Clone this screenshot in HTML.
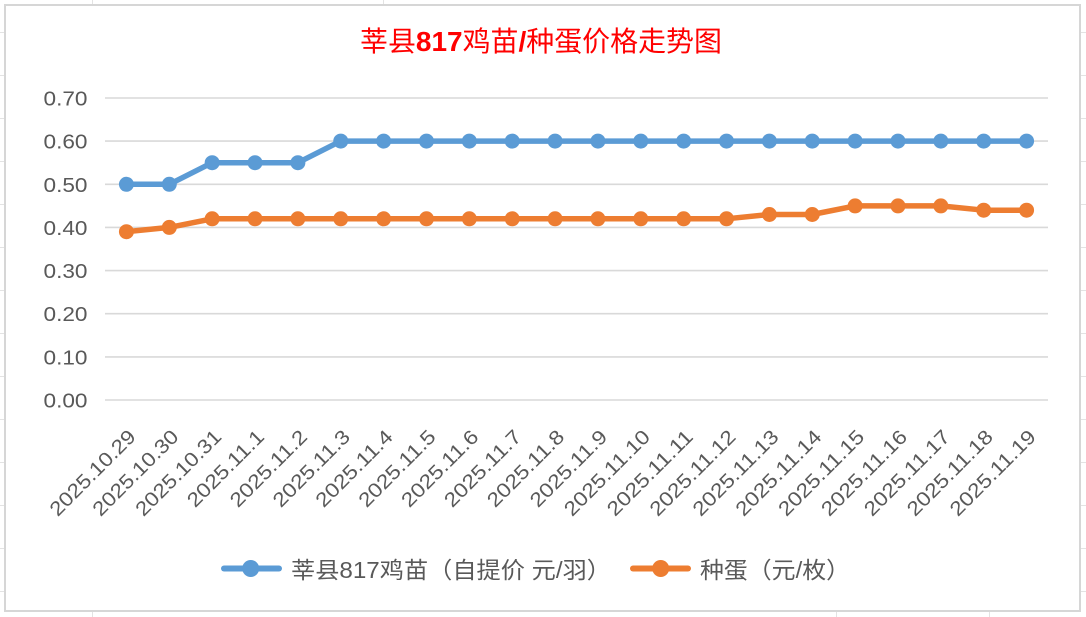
<!DOCTYPE html>
<html>
<head>
<meta charset="utf-8">
<style>
html,body{margin:0;padding:0;background:#fff;}
svg{display:block;}
text{font-family:"Liberation Sans","Noto Sans CJK SC",sans-serif;}
</style>
</head>
<body>
<svg width="1086" height="617" viewBox="0 0 1086 617" xmlns="http://www.w3.org/2000/svg">
  <rect x="0" y="0" width="1086" height="617" fill="#fff"/>
  <!-- spreadsheet gridlines outside chart -->
  <g stroke="#E3E3E3" stroke-width="1">
    <line x1="0" y1="32.5" x2="5" y2="32.5"/>
    <line x1="0" y1="75.5" x2="5" y2="75.5"/>
    <line x1="0" y1="118.5" x2="5" y2="118.5"/>
    <line x1="0" y1="161.5" x2="5" y2="161.5"/>
    <line x1="0" y1="204.5" x2="5" y2="204.5"/>
    <line x1="0" y1="247.5" x2="5" y2="247.5"/>
    <line x1="0" y1="290.5" x2="5" y2="290.5"/>
    <line x1="0" y1="333.5" x2="5" y2="333.5"/>
    <line x1="0" y1="376.5" x2="5" y2="376.5"/>
    <line x1="0" y1="419.5" x2="5" y2="419.5"/>
    <line x1="0" y1="462.5" x2="5" y2="462.5"/>
    <line x1="0" y1="505.5" x2="5" y2="505.5"/>
    <line x1="0" y1="548.5" x2="5" y2="548.5"/>
    <line x1="0" y1="591.5" x2="5" y2="591.5"/>
    <line x1="1080" y1="32.5" x2="1086" y2="32.5"/>
    <line x1="1080" y1="75.5" x2="1086" y2="75.5"/>
    <line x1="1080" y1="118.5" x2="1086" y2="118.5"/>
    <line x1="1080" y1="161.5" x2="1086" y2="161.5"/>
    <line x1="1080" y1="204.5" x2="1086" y2="204.5"/>
    <line x1="1080" y1="247.5" x2="1086" y2="247.5"/>
    <line x1="1080" y1="290.5" x2="1086" y2="290.5"/>
    <line x1="1080" y1="333.5" x2="1086" y2="333.5"/>
    <line x1="1080" y1="376.5" x2="1086" y2="376.5"/>
    <line x1="1080" y1="419.5" x2="1086" y2="419.5"/>
    <line x1="1080" y1="462.5" x2="1086" y2="462.5"/>
    <line x1="1080" y1="505.5" x2="1086" y2="505.5"/>
    <line x1="1080" y1="548.5" x2="1086" y2="548.5"/>
    <line x1="1080" y1="591.5" x2="1086" y2="591.5"/>
    <line x1="92.5" y1="0" x2="92.5" y2="5"/>
    <line x1="383.5" y1="0" x2="383.5" y2="5"/>
    <line x1="92.5" y1="611" x2="92.5" y2="617"/>
    <line x1="836.5" y1="611" x2="836.5" y2="617"/>
    <line x1="989.5" y1="611" x2="989.5" y2="617"/>
  </g>
  <!-- chart border -->
  <rect x="5" y="5" width="1075" height="606" fill="#fff" stroke="#D6D6D6" stroke-width="2"/>

  <!-- title -->
  <text x="360" y="51" font-size="28" fill="#FF0000" textLength="362" lengthAdjust="spacingAndGlyphs">莘县<tspan font-weight="bold">817</tspan>鸡苗<tspan font-weight="bold">/</tspan>种蛋价格走势图</text>

  <!-- gridlines -->
  <g stroke="#D9D9D9" stroke-width="1.6">
    <line x1="105" y1="98" x2="1048" y2="98"/>
    <line x1="105" y1="141.1" x2="1048" y2="141.1"/>
    <line x1="105" y1="184.3" x2="1048" y2="184.3"/>
    <line x1="105" y1="227.4" x2="1048" y2="227.4"/>
    <line x1="105" y1="270.6" x2="1048" y2="270.6"/>
    <line x1="105" y1="313.7" x2="1048" y2="313.7"/>
    <line x1="105" y1="356.9" x2="1048" y2="356.9"/>
    <line x1="105" y1="400" x2="1048" y2="400"/>
  </g>

  <!-- y labels -->
  <g font-size="20" fill="#595959" text-anchor="end">
    <text x="87.5" y="105.5" textLength="44" lengthAdjust="spacingAndGlyphs">0.70</text>
    <text x="87.5" y="148.6" textLength="44" lengthAdjust="spacingAndGlyphs">0.60</text>
    <text x="87.5" y="191.8" textLength="44" lengthAdjust="spacingAndGlyphs">0.50</text>
    <text x="87.5" y="234.9" textLength="44" lengthAdjust="spacingAndGlyphs">0.40</text>
    <text x="87.5" y="278.1" textLength="44" lengthAdjust="spacingAndGlyphs">0.30</text>
    <text x="87.5" y="321.2" textLength="44" lengthAdjust="spacingAndGlyphs">0.20</text>
    <text x="87.5" y="364.4" textLength="44" lengthAdjust="spacingAndGlyphs">0.10</text>
    <text x="87.5" y="407.5" textLength="44" lengthAdjust="spacingAndGlyphs">0.00</text>
  </g>

  <!-- x labels -->
  <g font-size="20" fill="#595959" text-anchor="end">
    <text transform="translate(136.9,438) rotate(-45)" textLength="112" lengthAdjust="spacingAndGlyphs">2025.10.29</text>
    <text transform="translate(179.8,438) rotate(-45)" textLength="112" lengthAdjust="spacingAndGlyphs">2025.10.30</text>
    <text transform="translate(222.7,438) rotate(-45)" textLength="112" lengthAdjust="spacingAndGlyphs">2025.10.31</text>
    <text transform="translate(265.5,438) rotate(-45)" textLength="99.6" lengthAdjust="spacingAndGlyphs">2025.11.1</text>
    <text transform="translate(308.4,438) rotate(-45)" textLength="99.6" lengthAdjust="spacingAndGlyphs">2025.11.2</text>
    <text transform="translate(351.3,438) rotate(-45)" textLength="99.6" lengthAdjust="spacingAndGlyphs">2025.11.3</text>
    <text transform="translate(394.1,438) rotate(-45)" textLength="99.6" lengthAdjust="spacingAndGlyphs">2025.11.4</text>
    <text transform="translate(437.0,438) rotate(-45)" textLength="99.6" lengthAdjust="spacingAndGlyphs">2025.11.5</text>
    <text transform="translate(479.8,438) rotate(-45)" textLength="99.6" lengthAdjust="spacingAndGlyphs">2025.11.6</text>
    <text transform="translate(522.7,438) rotate(-45)" textLength="99.6" lengthAdjust="spacingAndGlyphs">2025.11.7</text>
    <text transform="translate(565.6,438) rotate(-45)" textLength="99.6" lengthAdjust="spacingAndGlyphs">2025.11.8</text>
    <text transform="translate(608.4,438) rotate(-45)" textLength="99.6" lengthAdjust="spacingAndGlyphs">2025.11.9</text>
    <text transform="translate(651.3,438) rotate(-45)" textLength="112" lengthAdjust="spacingAndGlyphs">2025.11.10</text>
    <text transform="translate(694.2,438) rotate(-45)" textLength="112" lengthAdjust="spacingAndGlyphs">2025.11.11</text>
    <text transform="translate(737.0,438) rotate(-45)" textLength="112" lengthAdjust="spacingAndGlyphs">2025.11.12</text>
    <text transform="translate(779.9,438) rotate(-45)" textLength="112" lengthAdjust="spacingAndGlyphs">2025.11.13</text>
    <text transform="translate(822.8,438) rotate(-45)" textLength="112" lengthAdjust="spacingAndGlyphs">2025.11.14</text>
    <text transform="translate(865.6,438) rotate(-45)" textLength="112" lengthAdjust="spacingAndGlyphs">2025.11.15</text>
    <text transform="translate(908.5,438) rotate(-45)" textLength="112" lengthAdjust="spacingAndGlyphs">2025.11.16</text>
    <text transform="translate(951.3,438) rotate(-45)" textLength="112" lengthAdjust="spacingAndGlyphs">2025.11.17</text>
    <text transform="translate(994.2,438) rotate(-45)" textLength="112" lengthAdjust="spacingAndGlyphs">2025.11.18</text>
    <text transform="translate(1037.1,438) rotate(-45)" textLength="112" lengthAdjust="spacingAndGlyphs">2025.11.19</text>
  </g>

  <!-- blue series -->
  <polyline fill="none" stroke="#5B9BD5" stroke-width="5.5" stroke-linejoin="round" stroke-linecap="round"
    points="126.43,184.3 169.30,184.3 212.16,162.7 255.02,162.7 297.89,162.7 340.75,141.1 383.61,141.1 426.48,141.1 469.34,141.1 512.20,141.1 555.07,141.1 597.93,141.1 640.80,141.1 683.66,141.1 726.52,141.1 769.39,141.1 812.25,141.1 855.11,141.1 897.98,141.1 940.84,141.1 983.70,141.1 1026.57,141.1"/>
  <g fill="#5B9BD5">
    <circle cx="126.43" cy="184.3" r="7.5"/><circle cx="169.30" cy="184.3" r="7.5"/>
    <circle cx="212.16" cy="162.7" r="7.5"/><circle cx="255.02" cy="162.7" r="7.5"/>
    <circle cx="297.89" cy="162.7" r="7.5"/><circle cx="340.75" cy="141.1" r="7.5"/>
    <circle cx="383.61" cy="141.1" r="7.5"/><circle cx="426.48" cy="141.1" r="7.5"/>
    <circle cx="469.34" cy="141.1" r="7.5"/><circle cx="512.20" cy="141.1" r="7.5"/>
    <circle cx="555.07" cy="141.1" r="7.5"/><circle cx="597.93" cy="141.1" r="7.5"/>
    <circle cx="640.80" cy="141.1" r="7.5"/><circle cx="683.66" cy="141.1" r="7.5"/>
    <circle cx="726.52" cy="141.1" r="7.5"/><circle cx="769.39" cy="141.1" r="7.5"/>
    <circle cx="812.25" cy="141.1" r="7.5"/><circle cx="855.11" cy="141.1" r="7.5"/>
    <circle cx="897.98" cy="141.1" r="7.5"/><circle cx="940.84" cy="141.1" r="7.5"/>
    <circle cx="983.70" cy="141.1" r="7.5"/><circle cx="1026.57" cy="141.1" r="7.5"/>
  </g>

  <!-- orange series -->
  <polyline fill="none" stroke="#ED7D31" stroke-width="5.5" stroke-linejoin="round" stroke-linecap="round"
    points="126.43,231.7 169.30,227.4 212.16,218.8 255.02,218.8 297.89,218.8 340.75,218.8 383.61,218.8 426.48,218.8 469.34,218.8 512.20,218.8 555.07,218.8 597.93,218.8 640.80,218.8 683.66,218.8 726.52,218.8 769.39,214.5 812.25,214.5 855.11,205.9 897.98,205.9 940.84,205.9 983.70,210.2 1026.57,210.2"/>
  <g fill="#ED7D31">
    <circle cx="126.43" cy="231.7" r="7.5"/><circle cx="169.30" cy="227.4" r="7.5"/>
    <circle cx="212.16" cy="218.8" r="7.5"/><circle cx="255.02" cy="218.8" r="7.5"/>
    <circle cx="297.89" cy="218.8" r="7.5"/><circle cx="340.75" cy="218.8" r="7.5"/>
    <circle cx="383.61" cy="218.8" r="7.5"/><circle cx="426.48" cy="218.8" r="7.5"/>
    <circle cx="469.34" cy="218.8" r="7.5"/><circle cx="512.20" cy="218.8" r="7.5"/>
    <circle cx="555.07" cy="218.8" r="7.5"/><circle cx="597.93" cy="218.8" r="7.5"/>
    <circle cx="640.80" cy="218.8" r="7.5"/><circle cx="683.66" cy="218.8" r="7.5"/>
    <circle cx="726.52" cy="218.8" r="7.5"/><circle cx="769.39" cy="214.5" r="7.5"/>
    <circle cx="812.25" cy="214.5" r="7.5"/><circle cx="855.11" cy="205.9" r="7.5"/>
    <circle cx="897.98" cy="205.9" r="7.5"/><circle cx="940.84" cy="205.9" r="7.5"/>
    <circle cx="983.70" cy="210.2" r="7.5"/><circle cx="1026.57" cy="210.2" r="7.5"/>
  </g>

  <!-- legend -->
  <line x1="224" y1="568.5" x2="279" y2="568.5" stroke="#5B9BD5" stroke-width="6" stroke-linecap="round"/>
  <circle cx="250.7" cy="568.5" r="8.5" fill="#5B9BD5"/>
  <text x="291" y="578" font-size="23" fill="#595959" textLength="320" lengthAdjust="spacingAndGlyphs">莘县817鸡苗（自提价 元/羽）</text>
  <line x1="633" y1="568.5" x2="688" y2="568.5" stroke="#ED7D31" stroke-width="6" stroke-linecap="round"/>
  <circle cx="660.7" cy="568.5" r="8.5" fill="#ED7D31"/>
  <text x="700" y="578" font-size="23" fill="#595959" textLength="150" lengthAdjust="spacingAndGlyphs">种蛋（元/枚）</text>
</svg>
</body>
</html>
